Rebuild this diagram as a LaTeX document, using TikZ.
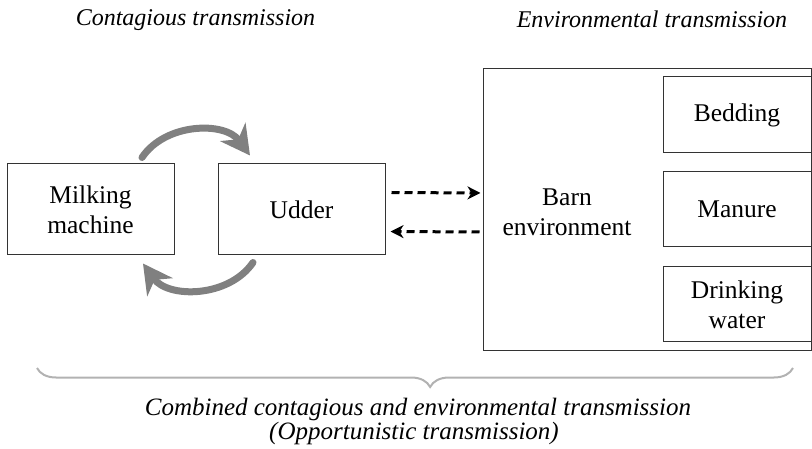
\documentclass[tikz,border=0pt]{standalone}
\usepackage{fontspec}
\setmainfont{Liberation Serif}
\usetikzlibrary{arrows.meta,decorations.pathreplacing}
\begin{document}
\begin{tikzpicture}[x=1pt,y=-1pt,
  box/.style={draw=black!80, line width=1pt, inner sep=0pt, align=center,
    font=\fontsize{25.5}{30}\selectfont},
  lbl/.style={inner sep=0pt, align=center, font=\fontsize{25.5}{30}\selectfont},
  ital/.style={inner sep=0pt, align=center, font=\fontsize{24}{25}\selectfont\itshape},
  bital/.style={inner sep=0pt, align=center, font=\fontsize{25}{25}\selectfont\itshape},
  grayarrow/.style={draw=black!50, line width=7pt, line cap=round,
    -{Stealth[length=29pt,width=31pt,inset=9pt]}},
  dasharrow/.style={draw=black, line width=3pt, dash pattern=on 8pt off 5pt,
    -{Stealth[length=13pt,width=13pt,inset=4pt]}},
  bracestyle/.style={draw=black!30, line width=2pt,
    decorate, decoration={brace, mirror, amplitude=19pt, aspect=0.52}}
]
\useasboundingbox (0,0) rectangle (812,449);

\node[ital, anchor=base] (h1) at (195.5,26) {Contagious transmission};
\node[ital, anchor=base] (h2) at (652,28) {Environmental transmission};

\node[box, minimum width=167pt, minimum height=91pt] (mm) at (90.5,209.5) {Milking\\machine};
\node[box, minimum width=167pt, minimum height=91pt] (ud) at (301.5,209.5) {Udder};

\node[box, minimum width=328pt, minimum height=282pt] (barn) at (647,210) {};
\node[lbl] (barntxt) at (567,212) {Barn\\environment};
\node[box, minimum width=148pt, minimum height=76pt] (bed) at (737,115) {Bedding};
\node[box, minimum width=148pt, minimum height=75pt] (man) at (737,209.5) {Manure};
\node[box, minimum width=148pt, minimum height=75pt] (dw) at (737,304.5) {Drinking\\water};

\draw[grayarrow] ([xshift=51.5pt,yshift=6pt]mm.north) to[bend left=55] ([xshift=-51.5pt,yshift=8pt]ud.north);
\draw[grayarrow] ([xshift=-48.5pt,yshift=-7pt]ud.south) to[bend left=55] ([xshift=52.5pt,yshift=-8pt]mm.south);

\draw[dasharrow] ([xshift=6pt,yshift=17pt]ud.east) -- ([xshift=-2pt,yshift=17pt]barn.west);
\draw[dasharrow] ([xshift=-3pt,yshift=-22pt]barn.west) -- ([xshift=5pt,yshift=-22pt]ud.east);

\coordinate (bl) at (37,368);
\coordinate (br) at (793,368);
\draw[bracestyle] (bl) -- (br);

\node[bital, anchor=base] (c1) at (418,415) {Combined contagious and environmental transmission};
\node[bital, anchor=base] (c2) at (414,439) {(Opportunistic transmission)};
\end{tikzpicture}
\end{document}
